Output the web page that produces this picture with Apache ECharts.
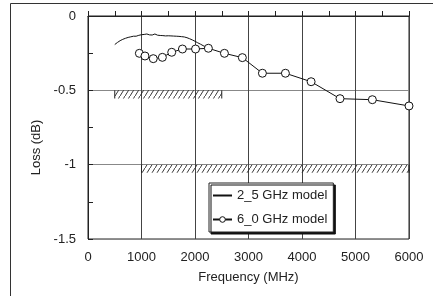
<!DOCTYPE html>
<html>
<head>
<meta charset="utf-8">
<script src="https://cdn.jsdelivr.net/npm/echarts@6/dist/echarts.min.js"></script>
<style>
  html, body { margin: 0; padding: 0; background: #fff; }
  #lossChart { width: 433px; height: 296px; }
</style>
</head>
<body>
<div id="lossChart"></div>
<script>
  // 2_5 GHz model (noisy trace)
  const freq25 = [500, 525, 550, 575, 600, 625, 650, 675, 700, 725, 750, 775, 800, 825, 850, 875,
    900, 925, 950, 975, 1000, 1025, 1050, 1075, 1100, 1125, 1150, 1175, 1200, 1225, 1250, 1275,
    1300, 1325, 1350, 1375, 1400, 1425, 1450, 1475, 1500, 1525, 1550, 1575, 1600, 1625, 1650, 1675,
    1700, 1725, 1750, 1775, 1800, 1825, 1850, 1875, 1900, 1925, 1950, 1975, 2000, 2025, 2050, 2075,
    2100, 2125, 2150, 2175, 2200, 2225, 2250]
  const loss25 = [-0.192, -0.186, -0.178, -0.174, -0.166, -0.163, -0.157, -0.156, -0.150, -0.148,
    -0.144, -0.145, -0.140, -0.141, -0.136, -0.134, -0.136, -0.131, -0.130, -0.127, -0.126, -0.129,
    -0.124, -0.126, -0.121, -0.124, -0.127, -0.123, -0.128, -0.124, -0.121, -0.125, -0.129, -0.127,
    -0.131, -0.128, -0.132, -0.130, -0.134, -0.131, -0.133, -0.131, -0.134, -0.132, -0.135, -0.133,
    -0.136, -0.135, -0.137, -0.136, -0.139, -0.138, -0.141, -0.143, -0.146, -0.149, -0.153, -0.157,
    -0.161, -0.165, -0.170, -0.175, -0.180, -0.184, -0.189, -0.194, -0.199, -0.203, -0.208, -0.212,
    -0.217]
  // 6_0 GHz model (measured points)
  const freq60 = [960, 1065, 1220, 1390, 1565, 1765, 2010, 2250, 2550, 2885, 3260, 3690, 4170, 4710, 5315, 6000]
  const loss60 = [-0.251, -0.269, -0.287, -0.278, -0.244, -0.222, -0.222, -0.217, -0.251, -0.280,
    -0.385, -0.385, -0.442, -0.556, -0.563, -0.605]
  // hatched limit bands: [fromMHz, toMHz, topdB, bottomdB]
  const hatchBands = [[500, 2500, -0.5, -0.555], [1000, 6000, -1, -1.055]]
  const seriesNames = ['2_5 GHz model', '6_0 GHz model']

  function makeHatch() {
    const c = document.createElement('canvas')
    c.width = 5
    c.height = 8
    const g = c.getContext('2d')
    g.strokeStyle = '#222'
    g.lineWidth = 0.9
    g.beginPath()
    g.moveTo(-1, 9.6)
    g.lineTo(6, -1.6)
    g.stroke()
    return { image: c, repeat: 'repeat' }
  }
  const hatch = makeHatch()

  const font = 'Liberation Sans, Arial, sans-serif'
  const option = {
    animation: false,
    grid: {
      show: true,
      left: 88,
      top: 16,
      right: 24,
      bottom: 57,
      borderColor: '#222',
      borderWidth: 1
    },
    legend: {
      data: [
        { name: seriesNames[0], itemStyle: { opacity: 0 } },
        { name: seriesNames[1], itemStyle: { color: '#fff', borderColor: '#111', borderWidth: 1 } }
      ],
      orient: 'vertical',
      left: 209,
      top: 183,
      itemWidth: 19,
      itemHeight: 7,
      itemGap: 11,
      padding: [6, 6, 6, 3],
      backgroundColor: '#fff',
      borderColor: '#222',
      borderWidth: 1,
      borderRadius: 0,
      shadowColor: '#111',
      shadowBlur: 0,
      shadowOffsetX: 2,
      shadowOffsetY: 2,
      textStyle: { fontFamily: font, fontSize: 13, color: '#222' }
    },
    xAxis: {
      type: 'value',
      min: 0,
      max: 6000,
      interval: 1000,
      name: 'Frequency (MHz)',
      nameLocation: 'middle',
      nameGap: 32,
      nameTextStyle: { fontFamily: font, fontSize: 13, color: '#222' },
      axisLine: { lineStyle: { color: '#222' } },
      axisTick: { inside: true, length: 5, lineStyle: { color: '#222' } },
      minorTick: { show: true, splitNumber: 2, length: 5, lineStyle: { color: '#222' } },
      axisLabel: {
        fontFamily: font, fontSize: 13, color: '#222', margin: 12,
        formatter: function (v) { return String(v) }
      },
      splitLine: { show: true, lineStyle: { color: '#444', width: 1 } }
    },
    yAxis: {
      type: 'value',
      min: -1.5,
      max: 0,
      interval: 0.5,
      name: 'Loss (dB)',
      nameLocation: 'middle',
      nameGap: 41,
      nameTextStyle: { fontFamily: font, fontSize: 13, color: '#222', padding: [0, 40, 0, 0] },
      axisLine: { lineStyle: { color: '#222' } },
      axisTick: { inside: true, length: 5, lineStyle: { color: '#222' } },
      minorTick: { show: true, splitNumber: 2, length: 5, lineStyle: { color: '#222' } },
      axisLabel: { fontFamily: font, fontSize: 13, color: '#222', margin: 12, padding: [6, 0, 0, 0] },
      splitLine: { show: true, lineStyle: { color: '#888', width: 1 } }
    },
    graphic: [
      { type: 'line', shape: { x1: 10.5, y1: 3.5, x2: 433, y2: 3.5 }, style: { stroke: '#333', lineWidth: 1 } },
      { type: 'line', shape: { x1: 10.5, y1: 3.5, x2: 10.5, y2: 296 }, style: { stroke: '#333', lineWidth: 1 } }
    ],
    series: [
      {
        name: 'hatch',
        type: 'custom',
        z: 1,
        encode: { x: [0, 1], y: [2, 3] },
        renderItem: function (params, api) {
          const p0 = api.coord([api.value(0), api.value(2)])
          const p1 = api.coord([api.value(1), api.value(3)])
          return {
            type: 'group',
            children: [
              {
                type: 'rect',
                shape: { x: p0[0], y: p0[1], width: p1[0] - p0[0], height: p1[1] - p0[1] },
                style: { fill: hatch }
              },
              {
                type: 'line',
                shape: { x1: p0[0], y1: p0[1], x2: p0[0], y2: p1[1] },
                style: { stroke: '#222', lineWidth: 1 }
              },
              {
                type: 'line',
                shape: { x1: p1[0], y1: p0[1], x2: p1[0], y2: p1[1] },
                style: { stroke: '#222', lineWidth: 1 }
              }
            ]
          }
        },
        data: hatchBands
      },
      {
        name: seriesNames[0],
        type: 'line',
        symbol: 'none',
        z: 3,
        lineStyle: { color: '#111', width: 1 },
        itemStyle: { color: '#111' },
        data: freq25.map((f, i) => [f, loss25[i]])
      },
      {
        name: seriesNames[1],
        type: 'line',
        symbol: 'circle',
        symbolSize: 8,
        z: 4,
        lineStyle: { color: '#111', width: 1 },
        itemStyle: { color: '#fff', borderColor: '#111', borderWidth: 1 },
        data: freq60.map((f, i) => [f, loss60[i]])
      }
    ]
  }

  const eChart = echarts.init(document.getElementById('lossChart'), null, { renderer: 'canvas' })
  eChart.setOption(option)
</script>
</body>
</html>
